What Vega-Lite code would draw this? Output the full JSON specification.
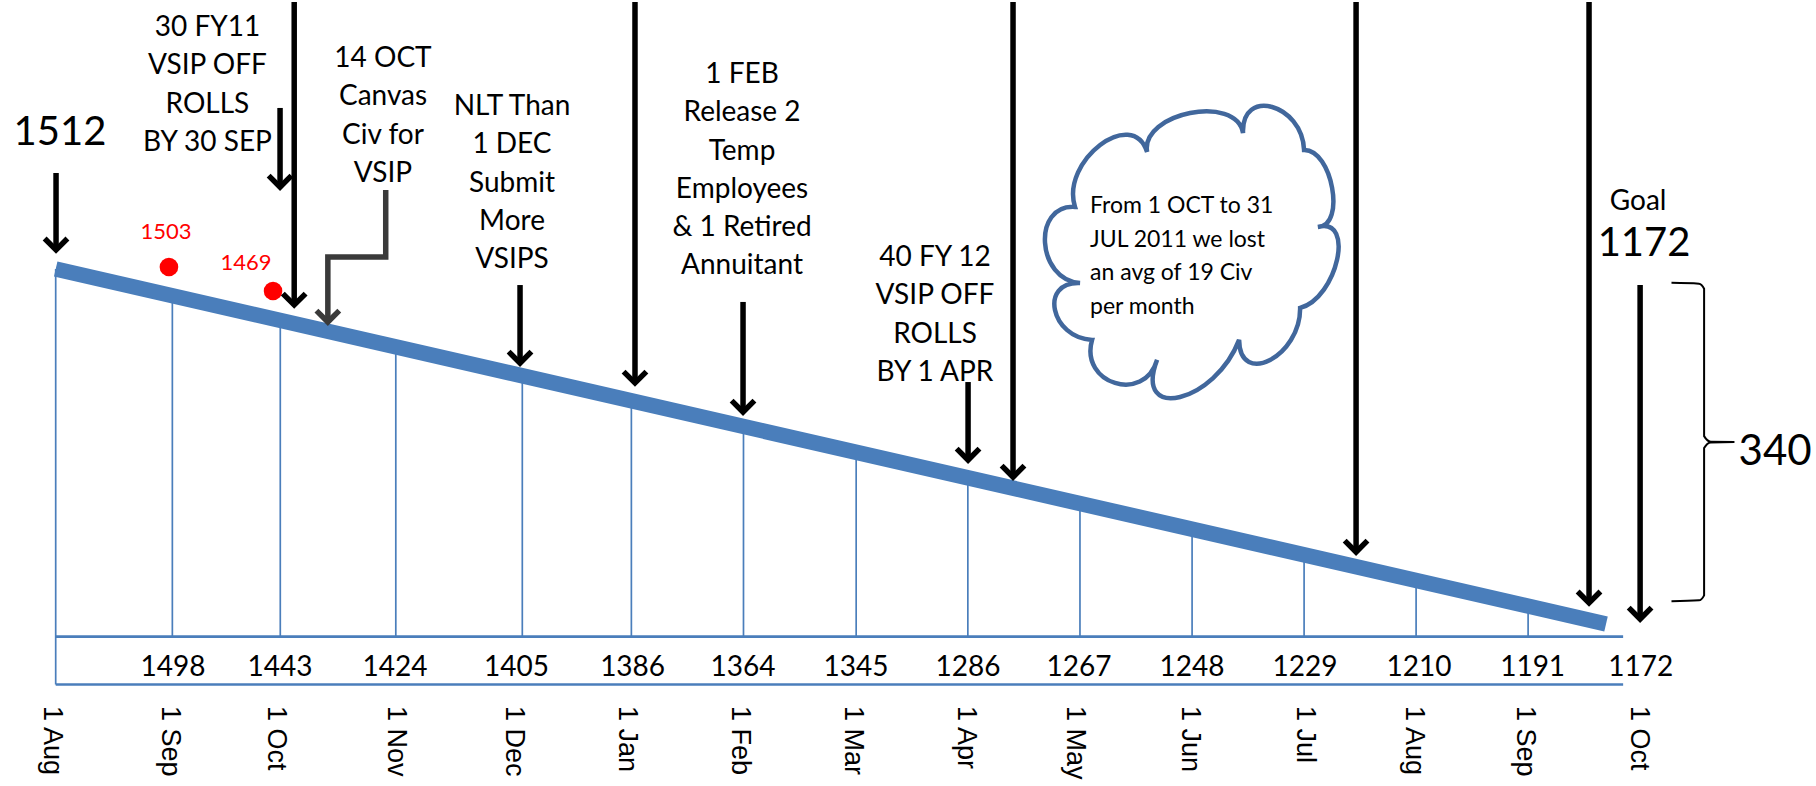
{
  "$schema": "https://vega.github.io/schema/vega-lite/v6.json",
  "width": 1816,
  "height": 786,
  "autosize": {"type": "none"},
  "padding": 0,
  "background": "white",
  "config": {"view": {"stroke": null}},
  "datasets": {
    "grid": [
      {"t": 0, "v": 1512, "v2": 1114.0},
      {"t": 1.030, "v": 1486.4, "v2": 1159.8},
      {"t": 1.983, "v": 1462.7, "v2": 1159.8},
      {"t": 3.003, "v": 1437.4, "v2": 1159.8},
      {"t": 4.120, "v": 1409.7, "v2": 1159.8},
      {"t": 5.083, "v": 1385.8, "v2": 1159.8},
      {"t": 6.073, "v": 1361.2, "v2": 1159.8},
      {"t": 7.068, "v": 1336.5, "v2": 1159.8},
      {"t": 8.054, "v": 1312.0, "v2": 1159.8},
      {"t": 9.044, "v": 1287.4, "v2": 1159.8},
      {"t": 10.034, "v": 1262.8, "v2": 1159.8},
      {"t": 11.023, "v": 1238.2, "v2": 1159.8},
      {"t": 12.012, "v": 1213.7, "v2": 1159.8},
      {"t": 13.001, "v": 1189.1, "v2": 1159.8}
    ],
    "baseline": [
      {"t": 0, "t2": 13.84, "v": 1159.8},
      {"t": 0, "t2": 13.84, "v": 1114.0}
    ],
    "trend": [
      {"t": 0, "v": 1512},
      {"t": 13.689, "v": 1172}
    ],
    "counts": [
      {"t": 1.036, "v": 1129.8, "label": "1498"},
      {"t": 1.981, "v": 1129.8, "label": "1443"},
      {"t": 2.996, "v": 1129.8, "label": "1424"},
      {"t": 4.069, "v": 1129.8, "label": "1405"},
      {"t": 5.094, "v": 1129.8, "label": "1386"},
      {"t": 6.069, "v": 1129.8, "label": "1364"},
      {"t": 7.067, "v": 1129.8, "label": "1345"},
      {"t": 8.055, "v": 1129.8, "label": "1286"},
      {"t": 9.036, "v": 1129.8, "label": "1267"},
      {"t": 10.034, "v": 1129.8, "label": "1248"},
      {"t": 11.031, "v": 1129.8, "label": "1229"},
      {"t": 12.038, "v": 1129.8, "label": "1210"},
      {"t": 13.041, "v": 1129.8, "label": "1191"},
      {"t": 13.995, "v": 1129.8, "label": "1172"}
    ],
    "months": [
      {"t": -0.035, "v": 1093.4, "label": "1 Aug"},
      {"t": 1.009, "v": 1093.4, "label": "1 Sep"},
      {"t": 1.943, "v": 1093.4, "label": "1 Oct"},
      {"t": 3.005, "v": 1093.4, "label": "1 Nov"},
      {"t": 4.043, "v": 1093.4, "label": "1 Dec"},
      {"t": 5.043, "v": 1093.4, "label": "1 Jan"},
      {"t": 6.042, "v": 1093.4, "label": "1 Feb"},
      {"t": 7.040, "v": 1093.4, "label": "1 Mar"},
      {"t": 8.038, "v": 1093.4, "label": "1 Apr"},
      {"t": 9.000, "v": 1093.4, "label": "1 May"},
      {"t": 10.016, "v": 1093.4, "label": "1 Jun"},
      {"t": 11.031, "v": 1093.4, "label": "1 Jul"},
      {"t": 11.994, "v": 1093.4, "label": "1 Aug"},
      {"t": 12.974, "v": 1093.4, "label": "1 Sep"},
      {"t": 13.980, "v": 1093.4, "label": "1 Oct"}
    ],
    "dots": [
      {"t": 1.000, "v": 1513.9, "label": "1503"},
      {"t": 1.919, "v": 1490.9, "label": "1469"}
    ],
    "dotlabels": [
      {"t": 0.974, "v": 1547.4, "label": "1503"},
      {"t": 1.680, "v": 1517.7, "label": "1469"}
    ],
    "shafts": [
      {"t": 0.003, "v": 1603.9, "v2": 1530.2},
      {"t": 1.981, "v": 1666.2, "v2": 1590.5},
      {"t": 2.106, "v": 1767.7, "v2": 1477.5},
      {"t": 4.100, "v": 1496.6, "v2": 1421.9},
      {"t": 5.115, "v": 1767.7, "v2": 1402.8},
      {"t": 6.069, "v": 1480.4, "v2": 1375.0},
      {"t": 8.056, "v": 1403.7, "v2": 1329.0},
      {"t": 8.453, "v": 1767.7, "v2": 1312.7},
      {"t": 11.482, "v": 1767.7, "v2": 1240.9},
      {"t": 13.539, "v": 1767.7, "v2": 1192.1},
      {"t": 13.990, "v": 1496.6, "v2": 1176.7}
    ],
    "heads": [
      {"t": 0.003, "v": 1530.2},
      {"t": 1.981, "v": 1590.5},
      {"t": 2.106, "v": 1477.5},
      {"t": 4.100, "v": 1421.9},
      {"t": 5.115, "v": 1402.8},
      {"t": 6.069, "v": 1375.0},
      {"t": 8.056, "v": 1329.0},
      {"t": 8.453, "v": 1312.7},
      {"t": 11.482, "v": 1240.9},
      {"t": 13.539, "v": 1192.1},
      {"t": 13.990, "v": 1176.7}
    ],
    "elbow": [
      {"t": 2.914, "v": 1587.6, "o": 1},
      {"t": 2.914, "v": 1523.5, "o": 2},
      {"t": 2.403, "v": 1523.5, "o": 3},
      {"t": 2.403, "v": 1463.5, "o": 4}
    ],
    "elbowhead": [
      {"t": 2.403, "v": 1461.2}
    ],
    "brace": [
      {"t": 14.267, "v": 1498.7, "o": 1},
      {"t": 14.510, "v": 1497.9, "o": 2},
      {"t": 14.555, "v": 1493.0, "o": 3},
      {"t": 14.555, "v": 1351.9, "o": 4},
      {"t": 14.614, "v": 1346.5, "o": 5},
      {"t": 14.823, "v": 1346.3, "o": 6},
      {"t": 14.614, "v": 1345.9, "o": 7},
      {"t": 14.555, "v": 1340.6, "o": 8},
      {"t": 14.555, "v": 1199.4, "o": 9},
      {"t": 14.510, "v": 1194.6, "o": 10},
      {"t": 14.267, "v": 1193.8, "o": 11}
    ],
    "notes": [
      {"t": 1.340, "v": 1742.8, "label": "30 FY11\nVSIP OFF\nROLLS\nBY 30 SEP"},
      {"t": 2.890, "v": 1713.1, "label": "14 OCT\nCanvas\nCiv for\nVSIP"},
      {"t": 4.029, "v": 1667.1, "label": "NLT Than\n1 DEC\nSubmit\nMore\nVSIPS"},
      {"t": 6.060, "v": 1697.8, "label": "1 FEB\nRelease 2\nTemp\nEmployees\n& 1 Retired\nAnnuitant"},
      {"t": 7.764, "v": 1522.5, "label": "40 FY 12\nVSIP OFF\nROLLS\nBY 1 APR"}
    ],
    "cloud": [
      {"t": 10.025, "v": 1530.2}
    ],
    "cloudtext": [
      {"t": 9.133, "v": 1572.3, "label": "From 1 OCT to 31\nJUL 2011 we lost\nan avg of 19 Civ\nper month"}
    ],
    "big": [
      {"t": 0.038, "v": 1642.2, "label": "1512", "kind": "start"},
      {"t": 14.025, "v": 1535.9, "label": "1172", "kind": "goalnum"},
      {"t": 15.182, "v": 1336.7, "label": "340", "kind": "diff"},
      {"t": 13.972, "v": 1576.1, "label": "Goal", "kind": "goal"}
    ]
  },
  "encoding": {
    "x": {"field": "t", "type": "quantitative", "scale": {"domain": [-0.4918, 15.543], "nice": false, "zero": false}, "axis": null},
    "y": {"field": "v", "type": "quantitative", "scale": {"domain": [1016.8, 1769.6], "nice": false, "zero": false}, "axis": null}
  },
  "layer": [
    {
      "data": {"name": "grid"},
      "mark": {"type": "rule", "color": "#4A7EBB", "strokeWidth": 1.7},
      "encoding": {"y2": {"field": "v2"}}
    },
    {
      "data": {"name": "baseline"},
      "mark": {"type": "rule", "color": "#4A7EBB", "strokeWidth": 2.7},
      "encoding": {"x2": {"field": "t2"}}
    },
    {
      "data": {"name": "trend"},
      "mark": {"type": "line", "color": "#4A7EBB", "strokeWidth": 15.5, "strokeCap": "butt"},
      "encoding": {}
    },
    {
      "data": {"name": "counts"},
      "mark": {"type": "text", "font": "Lato", "fontSize": 28, "align": "center", "baseline": "middle", "color": "black"},
      "encoding": {"text": {"field": "label", "type": "nominal"}}
    },
    {
      "data": {"name": "months"},
      "mark": {"type": "text", "font": "Liberation Sans", "fontSize": 27, "angle": 90, "align": "left", "baseline": "middle", "color": "black"},
      "encoding": {"text": {"field": "label", "type": "nominal"}}
    },
    {
      "data": {"name": "dots"},
      "mark": {"type": "circle", "color": "#FF0000", "size": 346, "opacity": 1},
      "encoding": {}
    },
    {
      "data": {"name": "dotlabels"},
      "mark": {"type": "text", "font": "Lato", "fontSize": 22, "align": "center", "baseline": "middle", "color": "#FF0000"},
      "encoding": {"text": {"field": "label", "type": "nominal"}}
    },
    {
      "data": {"name": "shafts"},
      "mark": {"type": "rule", "color": "black", "strokeWidth": 5.5},
      "encoding": {"y2": {"field": "v2"}}
    },
    {
      "data": {"name": "heads"},
      "mark": {"type": "point", "shape": "M-1,-1L0,0L1,-1", "filled": false, "stroke": "black", "strokeWidth": 5.5, "size": 520, "opacity": 1, "strokeJoin": "miter"},
      "encoding": {}
    },
    {
      "data": {"name": "elbow"},
      "mark": {"type": "line", "color": "#3A3A3A", "strokeWidth": 5.5, "strokeJoin": "miter", "strokeCap": "butt"},
      "encoding": {"order": {"field": "o", "type": "quantitative"}}
    },
    {
      "data": {"name": "elbowhead"},
      "mark": {"type": "point", "shape": "M-1,-1L0,0L1,-1", "filled": false, "stroke": "#3A3A3A", "strokeWidth": 5.5, "size": 520, "opacity": 1, "strokeJoin": "miter"},
      "encoding": {}
    },
    {
      "data": {"name": "brace"},
      "mark": {"type": "line", "color": "black", "strokeWidth": 2, "interpolate": "monotone"},
      "encoding": {"order": {"field": "o", "type": "quantitative"}}
    },
    {
      "data": {"name": "notes"},
      "mark": {"type": "text", "font": "Lato", "fontSize": 28, "lineHeight": 38.3, "lineBreak": "\n", "align": "center", "baseline": "middle", "color": "black"},
      "encoding": {"text": {"field": "label", "type": "nominal"}}
    },
    {
      "data": {"name": "cloud"},
      "mark": {"type": "point", "shape": "M-0.795,-0.295C-0.895,-0.61,-0.401,-0.986,-0.301,-0.671C-0.347,-0.94,0.31,-1.07,0.356,-0.801C0.343,-1.116,0.761,-1.0,0.774,-0.685C0.966,-0.69,1.062,-0.163,0.870,-0.158C1.125,-0.227,1.002,0.328,0.747,0.397C0.751,0.726,0.333,0.945,0.329,0.616C0.165,1.046,-0.397,1.183,-0.233,0.753C-0.32,1.055,-0.765,0.918,-0.678,0.616C-0.962,0.603,-1.044,0.213,-0.760,0.226C-1.057,0.208,-1.092,-0.313,-0.795,-0.295Z", "filled": false, "stroke": "#41679C", "strokeWidth": 4.5, "size": 85264, "opacity": 1},
      "encoding": {}
    },
    {
      "data": {"name": "cloudtext"},
      "mark": {"type": "text", "font": "Lato", "fontSize": 23, "lineHeight": 33.5, "lineBreak": "\n", "align": "left", "baseline": "middle", "color": "black"},
      "encoding": {"text": {"field": "label", "type": "nominal"}}
    },
    {
      "data": {"name": "big"},
      "transform": [{"filter": "datum.kind === 'start' || datum.kind === 'goalnum'"}],
      "mark": {"type": "text", "font": "Lato", "fontSize": 40, "align": "center", "baseline": "middle", "color": "black"},
      "encoding": {"text": {"field": "label", "type": "nominal"}}
    },
    {
      "data": {"name": "big"},
      "transform": [{"filter": "datum.kind === 'diff'"}],
      "mark": {"type": "text", "font": "Lato", "fontSize": 42, "align": "center", "baseline": "middle", "color": "black"},
      "encoding": {"text": {"field": "label", "type": "nominal"}}
    },
    {
      "data": {"name": "big"},
      "transform": [{"filter": "datum.kind === 'goal'"}],
      "mark": {"type": "text", "font": "Lato", "fontSize": 28, "align": "center", "baseline": "middle", "color": "black"},
      "encoding": {"text": {"field": "label", "type": "nominal"}}
    }
  ]
}
